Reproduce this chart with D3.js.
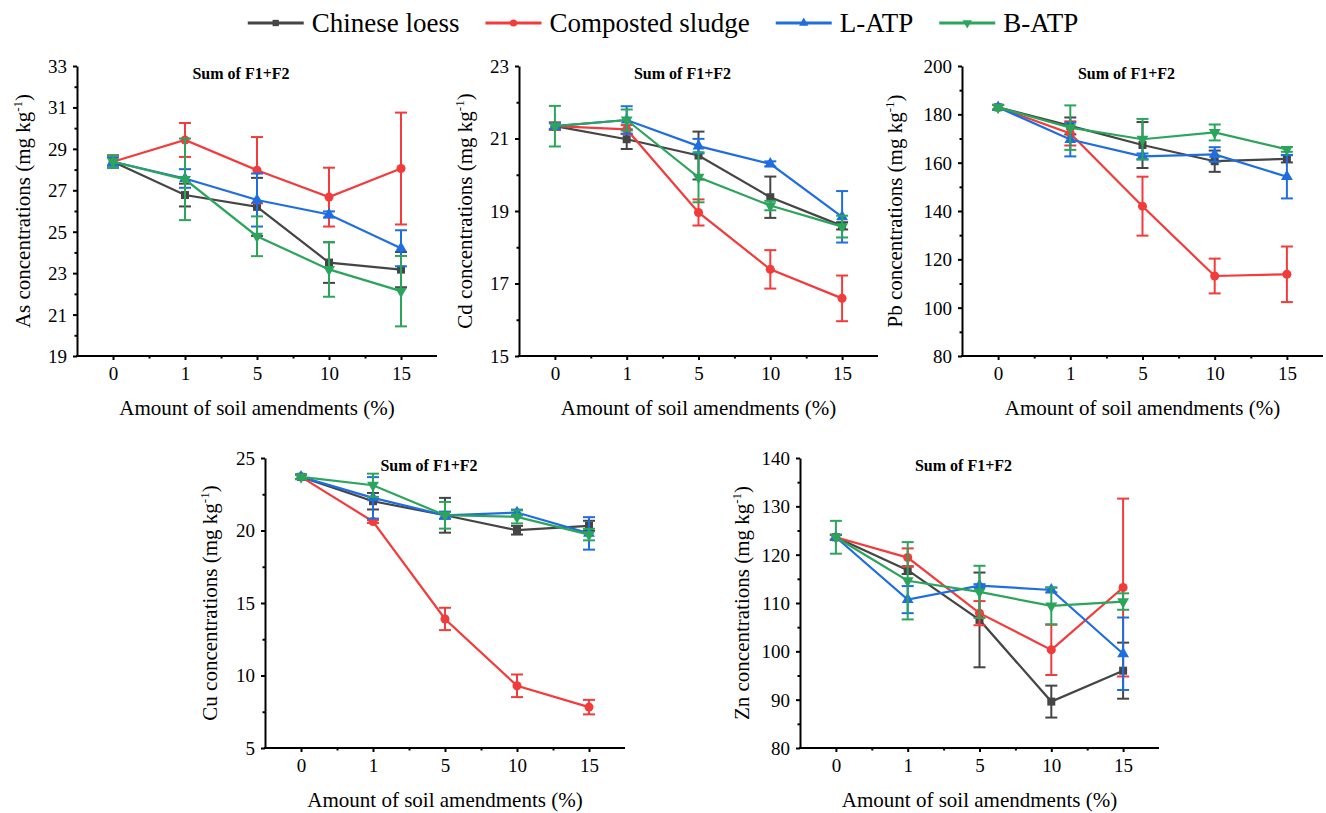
<!DOCTYPE html>
<html>
<head>
<meta charset="utf-8">
<script src="https://cdn.jsdelivr.net/npm/d3@7"></script>
<style>
  body { margin: 0; background: #fff; }
  svg { display: block; font-family: "Liberation Serif", "Times New Roman", serif; }
</style>
</head>
<body>
<div id="chart"></div>
<script>
const categories = ['0', '1', '5', '10', '15'];
const seriesNames = ['Chinese loess', 'Composted sludge', 'L-ATP', 'B-ATP'];
const seriesColors = ['#454545', '#f23b3b', '#1f6ee0', '#2ba55c'];
const seriesSymbols = ['square', 'circle', 'up', 'down'];

// order of rows: Chinese loess, Composted sludge, L-ATP, B-ATP
const asMeans = [
  [28.38, 26.77, 26.2, 23.51, 23.17],
  [28.38, 29.43, 27.97, 26.67, 28.05],
  [28.38, 27.57, 26.53, 25.83, 24.2],
  [28.38, 27.53, 24.78, 23.18, 22.13]
];
const asErrs = [
  [0.3, 0.55, 1.4, 0.98, 0.85],
  [0.3, 0.82, 1.6, 1.42, 2.7],
  [0.2, 0.45, 1.28, 0.15, 0.87],
  [0.3, 1.97, 0.96, 1.32, 1.7]
];

const cdMeans = [
  [21.34, 20.98, 20.53, 19.38, 18.59],
  [21.34, 21.25, 18.96, 17.39, 16.59],
  [21.34, 21.51, 20.79, 20.3, 18.84],
  [21.34, 21.51, 19.93, 19.15, 18.57]
];
const cdErrs = [
  [0.1, 0.27, 0.66, 0.57, 0.1],
  [0.1, 0.12, 0.36, 0.53, 0.63],
  [0.08, 0.38, 0.2, 0.07, 0.71],
  [0.56, 0.29, 0.69, 0.13, 0.3]
];

const pbMeans = [
  [182.9, 175.2, 167.3, 160.6, 161.6],
  [182.9, 172.1, 142.0, 113.1, 113.8],
  [182.9, 169.6, 162.6, 163.4, 154.2],
  [182.9, 174.5, 169.7, 172.5, 165.5]
];
const pbErrs = [
  [1, 3.5, 9.5, 4.4, 1.5],
  [1, 5, 12.2, 7.2, 11.5],
  [1, 7, 1.2, 3, 9],
  [1, 9.2, 8.4, 3.3, 1]
];

const cuMeans = [
  [23.7, 22.02, 21.05, 20.02, 20.32],
  [23.7, 20.62, 13.9, 9.29, 7.82],
  [23.7, 22.25, 21.05, 21.24, 19.8],
  [23.7, 23.12, 21.05, 20.94, 19.72]
];
const cuErrs = [
  [0.15, 0.57, 1.2, 0.3, 0.35],
  [0.15, 0.1, 0.77, 0.78, 0.5],
  [0.15, 1.43, 0.25, 0.2, 1.12],
  [0.15, 0.8, 0.92, 0.45, 0.4]
];

const znMeans = [
  [123.6, 116.8, 106.5, 89.6, 96.0],
  [123.6, 119.4, 107.9, 100.3, 113.2],
  [123.6, 110.7, 113.6, 112.7, 99.5],
  [123.6, 114.6, 112.3, 109.4, 110.3]
];
const znErrs = [
  [0.5, 0.8, 9.8, 3.3, 5.8],
  [0.5, 1.9, 2.5, 5.2, 18.4],
  [0.5, 2.8, 0.3, 0.5, 7.5],
  [3.4, 8, 5.4, 3.8, 1.7]
];

const width = 1326;
const height = 813;
const serif = '"Liberation Serif", "Times New Roman", serif';

const svg = d3.select('#chart')
  .append('svg')
  .attr('width', width)
  .attr('height', height);

const panels = [
  { el: 'As', means: asMeans, errs: asErrs, yDomain: [19, 33], step: 2, left: 77, right: 437, top: 66, bottom: 356, titleOff: 54 },
  { el: 'Cd', means: cdMeans, errs: cdErrs, yDomain: [15, 23], step: 2, left: 519, right: 878, top: 66, bottom: 356, titleOff: 54 },
  { el: 'Pb', means: pbMeans, errs: pbErrs, yDomain: [80, 200], step: 20, left: 962, right: 1323, top: 66, bottom: 356, titleOff: 67 },
  { el: 'Cu', means: cuMeans, errs: cuErrs, yDomain: [5, 25], step: 5, left: 265, right: 625, top: 458, bottom: 748, titleOff: 55 },
  { el: 'Zn', means: znMeans, errs: znErrs, yDomain: [80, 140], step: 10, left: 800, right: 1159, top: 458, bottom: 748, titleOff: 58 }
];

function symbolPath(kind, size) {
  if (kind === 'square') return d3.symbol(d3.symbolSquare, size)();
  if (kind === 'circle') return d3.symbol(d3.symbolCircle, size)();
  return d3.symbol(d3.symbolTriangle, size * 0.95)();
}

function drawPanel(p) {
  const g = svg.append('g');
  const x = d3.scaleLinear().domain([-0.5, categories.length - 0.5]).range([p.left, p.right]);
  const y = d3.scaleLinear().domain(p.yDomain).range([p.bottom, p.top]);

  const majorY = d3.range(p.yDomain[0], p.yDomain[1] + p.step / 2, p.step);
  const minorY = majorY.slice(0, -1).map((v) => v + p.step / 2);

  // minor ticks
  g.append('g')
    .attr('transform', `translate(${p.left},0)`)
    .call(d3.axisLeft(y).tickValues(minorY).tickFormat('').tickSize(2.5).tickSizeOuter(0))
    .call((a) => a.select('.domain').remove())
    .selectAll('line').attr('stroke', '#000').attr('stroke-width', 2);
  g.append('g')
    .attr('transform', `translate(0,${p.bottom})`)
    .call(d3.axisBottom(x).tickValues([0.5, 1.5, 2.5, 3.5]).tickFormat('').tickSize(2.5).tickSizeOuter(0))
    .call((a) => a.select('.domain').remove())
    .selectAll('line').attr('stroke', '#000').attr('stroke-width', 2);

  // major axes
  const yAxis = g.append('g')
    .attr('transform', `translate(${p.left},0)`)
    .call(d3.axisLeft(y).tickValues(majorY).tickSize(4).tickPadding(6).tickSizeOuter(0));
  const xAxis = g.append('g')
    .attr('transform', `translate(0,${p.bottom})`)
    .call(d3.axisBottom(x).tickValues(d3.range(categories.length))
      .tickFormat((i) => categories[i]).tickSize(4).tickPadding(7).tickSizeOuter(0));

  [yAxis, xAxis].forEach((a) => {
    a.attr('font-family', serif);
    a.select('.domain').attr('stroke', '#000').attr('stroke-width', 2);
    a.selectAll('.tick line').attr('stroke', '#000').attr('stroke-width', 2);
    a.selectAll('.tick text')
      .attr('fill', '#000')
      .style('font-size', '19px')
      .style('font-family', serif);
  });
  yAxis.selectAll('.tick text').attr('dy', '0.34em');
  // make sure the axis line reaches the corner
  xAxis.select('.domain').attr('d', `M${p.left - 1},0H${p.right}`);

  // axis titles
  g.append('text')
    .attr('x', (p.left + p.right) / 2)
    .attr('y', p.bottom + 59)
    .attr('text-anchor', 'middle')
    .style('font-size', '21px')
    .text('Amount of soil amendments (%)');

  const yt = g.append('text')
    .attr('transform', `translate(${p.left - p.titleOff},${(p.top + p.bottom) / 2}) rotate(-90)`)
    .attr('text-anchor', 'middle')
    .attr('dy', '0.35em')
    .style('font-size', '21px');
  yt.append('tspan').text(`${p.el} concentrations (mg kg`);
  yt.append('tspan').attr('dy', -8).style('font-size', '13px').text('-1');
  yt.append('tspan').attr('dy', 8).text(')');

  g.append('text')
    .attr('x', (p.left + p.right) / 2 - 16)
    .attr('y', p.top + 13)
    .attr('text-anchor', 'middle')
    .style('font-size', '16px')
    .style('font-weight', 'bold')
    .text('Sum of F1+F2');

  // series
  const line = d3.line().x((d, i) => x(i)).y((d) => y(d));
  seriesNames.forEach((name, s) => {
    const color = seriesColors[s];
    const sg = g.append('g');
    const means = p.means[s];
    const errs = p.errs[s];

    const eb = sg.append('g')
      .selectAll('g')
      .data(means)
      .join('g')
      .attr('stroke', color)
      .attr('stroke-width', 2);
    eb.append('line')
      .attr('x1', (d, i) => x(i)).attr('x2', (d, i) => x(i))
      .attr('y1', (d, i) => y(d + errs[i])).attr('y2', (d, i) => y(d - errs[i]));
    eb.append('line')
      .attr('x1', (d, i) => x(i) - 6).attr('x2', (d, i) => x(i) + 6)
      .attr('y1', (d, i) => y(d + errs[i])).attr('y2', (d, i) => y(d + errs[i]));
    eb.append('line')
      .attr('x1', (d, i) => x(i) - 6).attr('x2', (d, i) => x(i) + 6)
      .attr('y1', (d, i) => y(d - errs[i])).attr('y2', (d, i) => y(d - errs[i]));

    sg.append('path')
      .datum(means)
      .attr('fill', 'none')
      .attr('stroke', color)
      .attr('stroke-width', 2.2)
      .attr('d', line);

    sg.selectAll('path.mark')
      .data(means)
      .join('path')
      .attr('class', 'mark')
      .attr('fill', color)
      .attr('d', symbolPath(seriesSymbols[s], 64))
      .attr('transform', (d, i) => `translate(${x(i)},${y(d)})` + (seriesSymbols[s] === 'down' ? ' rotate(180)' : ''));
  });
}

panels.forEach(drawPanel);

// legend
const legend = svg.append('g');
let lx = 0;
seriesNames.forEach((name, s) => {
  const item = legend.append('g').attr('transform', `translate(${lx},0)`);
  item.append('line')
    .attr('x1', 0).attr('x2', 56).attr('y1', 23).attr('y2', 23)
    .attr('stroke', seriesColors[s]).attr('stroke-width', 3);
  item.append('path')
    .attr('d', symbolPath(seriesSymbols[s], 40))
    .attr('fill', seriesColors[s])
    .attr('transform', `translate(28,23)` + (seriesSymbols[s] === 'down' ? ' rotate(180)' : ''));
  const t = item.append('text')
    .attr('x', 64).attr('y', 32)
    .style('font-size', '27px')
    .text(name);
  lx += 64 + t.node().getComputedTextLength() + 26;
});
legend.attr('transform', `translate(${(width - (lx - 26)) / 2},0)`);
</script>
</body>
</html>
